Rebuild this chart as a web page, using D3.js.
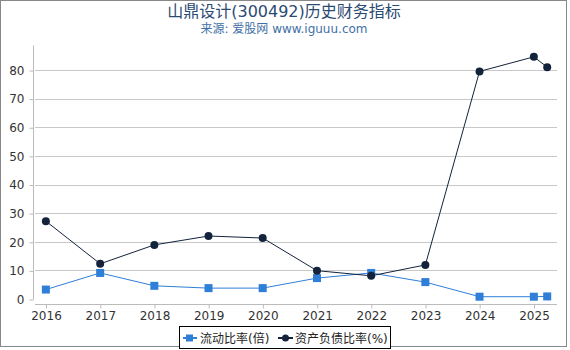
<!DOCTYPE html>
<html>
<head>
<meta charset="utf-8">
<script src="https://cdn.jsdelivr.net/npm/d3@7"></script>
<style>
body { margin: 0; background: #fff; }
svg { font-family: "DejaVu Sans", "Noto Sans CJK SC", sans-serif; }
</style>
</head>
<body>
<svg id="chart" width="570" height="350"></svg>
<script>
// report dates (year end, plus latest quarter)
const dates = ["2015-12-31", "2016-12-31", "2017-12-31", "2018-12-31", "2019-12-31",
    "2020-12-31", "2021-12-31", "2022-12-31", "2023-12-31", "2024-12-31", "2025-03-31"];
const currentRatio = [3.3, 9.1, 4.6, 3.8, 3.8, 7.3, 9.1, 5.9, 0.8, 0.8, 0.9];
const debtRatio = [27.2, 12.3, 18.9, 22.0, 21.3, 9.9, 8.1, 11.9, 79.5, 84.6, 81.0];
const yTicks = [0, 10, 20, 30, 40, 50, 60, 70, 80];
const seriesNames = ["流动比率(倍)", "资产负债比率(%)"];

const svg = d3.select("#chart");
const width = 570, height = 350;
const plotLeft = 33, plotRight = 557, plotTop = 45;

const parse = d3.timeParse("%Y-%m-%d");
const xDates = dates.map(parse);

const x = d3.scaleTime()
    .domain([new Date(2016, 0, 1), new Date(2025, 0, 1)])
    .range([46, 534]);
const y = d3.scaleLinear()
    .domain([0, 80])
    .range([299, 70]);

// outer frame
svg.append("rect")
    .attr("x", 0.5).attr("y", 0.5)
    .attr("width", width - 4).attr("height", height - 4)
    .attr("fill", "none").attr("stroke", "#888").attr("stroke-width", 1);

// title
svg.append("text")
    .attr("x", width / 2 - 1).attr("y", 17)
    .attr("text-anchor", "middle")
    .attr("font-size", 16).attr("fill", "#2b4a72")
    .text("山鼎设计(300492)历史财务指标");
svg.append("text")
    .attr("x", width / 2 - 1).attr("y", 33)
    .attr("text-anchor", "middle")
    .attr("font-size", 12).attr("fill", "#3f6fa6")
    .text("来源: 爱股网 www.iguuu.com");

// grid
svg.append("g")
    .selectAll("line")
    .data(yTicks.filter(d => d > 0))
    .enter().append("line")
    .attr("x1", plotLeft + 2).attr("x2", plotRight)
    .attr("y1", d => Math.round(y(d)) + 0.5).attr("y2", d => Math.round(y(d)) + 0.5)
    .attr("stroke", "#c8c8c8");

// y axis
const yAxis = svg.append("g")
    .attr("transform", `translate(${plotLeft + 0.5},0.5)`)
    .call(d3.axisLeft(y).tickValues(yTicks).tickSize(4).tickPadding(5));
yAxis.select(".domain").attr("stroke", "#bbb").attr("d", `M0,${plotTop}V${y(0)}`);
yAxis.selectAll(".tick line").attr("stroke", "#bbb");
yAxis.selectAll("text").attr("font-size", 12).attr("fill", "#333")
    .attr("font-family", "DejaVu Sans");

// x axis
const years = d3.range(2016, 2026).map(v => new Date(v, 0, 1));
const xAxis = svg.append("g")
    .attr("transform", `translate(0,${y(0) + 5.5})`)
    .call(d3.axisBottom(x).tickValues(years).tickFormat(d3.timeFormat("%Y")).tickSize(4).tickPadding(3));
xAxis.select(".domain").attr("stroke", "#bbb").attr("d", `M${plotLeft + 2},0H${plotRight}`);
xAxis.selectAll(".tick line").attr("stroke", "#bbb");
xAxis.selectAll("text").attr("font-size", 12).attr("fill", "#333")
    .attr("font-family", "DejaVu Sans");

// lines
const colors = ["#2f7ed8", "#14233c"];
const allSeries = [currentRatio, debtRatio];
const line = d3.line().x((d, i) => x(xDates[i])).y(d => y(d));

allSeries.forEach((vals, k) => {
    svg.append("path")
        .datum(vals)
        .attr("d", line)
        .attr("fill", "none")
        .attr("stroke", colors[k])
        .attr("stroke-width", 1);
});

// markers
svg.append("g").selectAll("rect")
    .data(currentRatio)
    .enter().append("rect")
    .attr("x", (d, i) => x(xDates[i]) - 4)
    .attr("y", d => y(d) - 4)
    .attr("width", 8).attr("height", 8)
    .attr("fill", colors[0]);
svg.append("g").selectAll("circle")
    .data(debtRatio)
    .enter().append("circle")
    .attr("cx", (d, i) => x(xDates[i]))
    .attr("cy", d => y(d))
    .attr("r", 4)
    .attr("fill", colors[1]);

// legend
const lg = svg.append("g");
lg.append("rect")
    .attr("x", 179.5).attr("y", 326.5)
    .attr("width", 211).attr("height", 22)
    .attr("fill", "#fff").attr("stroke", "#000");
lg.append("line").attr("x1", 183).attr("x2", 197).attr("y1", 338).attr("y2", 338)
    .attr("stroke", colors[0]).attr("stroke-width", 2);
lg.append("rect").attr("x", 186).attr("y", 334.5).attr("width", 7).attr("height", 7).attr("fill", colors[0]);
lg.append("text").attr("x", 200).attr("y", 342.5).attr("font-size", 12).attr("fill", "#222")
    .text(seriesNames[0]);
lg.append("line").attr("x1", 278).attr("x2", 293).attr("y1", 338).attr("y2", 338)
    .attr("stroke", colors[1]).attr("stroke-width", 2);
lg.append("circle").attr("cx", 285.5).attr("cy", 338).attr("r", 3.5).attr("fill", colors[1]);
lg.append("text").attr("x", 295).attr("y", 342.5).attr("font-size", 12).attr("fill", "#222")
    .text(seriesNames[1]);
</script>
</body>
</html>
